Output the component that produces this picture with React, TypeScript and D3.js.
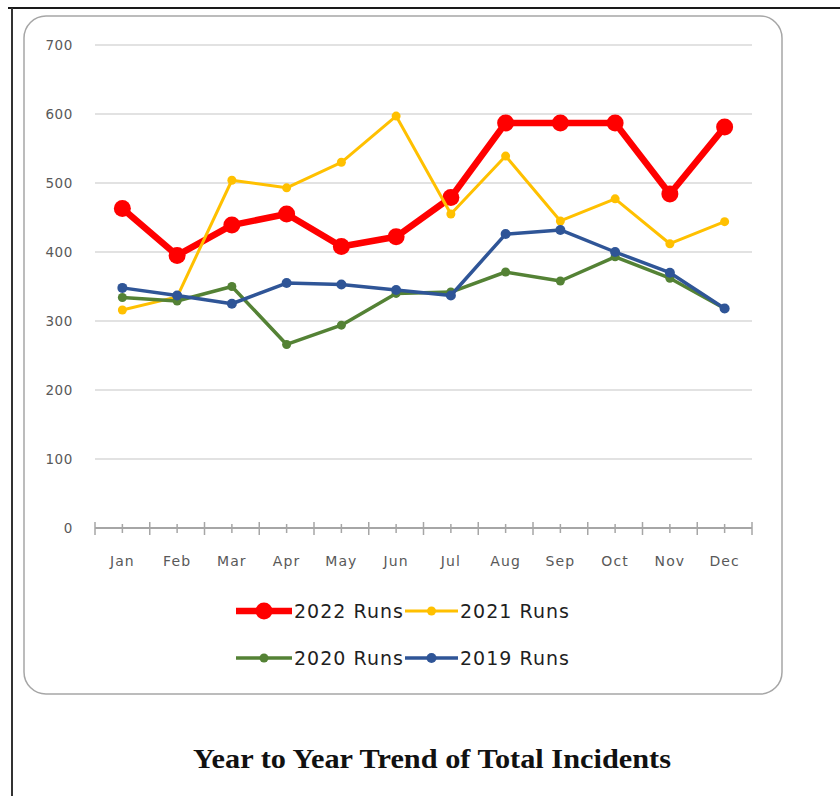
import React from "react";
import * as d3 from "d3";

// Monthly incident run counts by year
const months = ["Jan", "Feb", "Mar", "Apr", "May", "Jun", "Jul", "Aug", "Sep", "Oct", "Nov", "Dec"];
const runs2022 = [463, 395, 439, 455, 408, 422, 479, 587, 587, 587, 484, 581];
const runs2021 = [316, 335, 504, 493, 530, 597, 455, 539, 445, 477, 412, 444];
const runs2020 = [334, 329, 350, 266, 294, 340, 342, 371, 358, 393, 362, 318];
const runs2019 = [348, 337, 325, 355, 353, 345, 337, 426, 432, 400, 370, 318];
const yTicks = [0, 100, 200, 300, 400, 500, 600, 700];
const seriesNames = ["2022 Runs", "2021 Runs", "2020 Runs", "2019 Runs"];
const seriesColors = ["#FF0000", "#FFC000", "#548235", "#2F5597"];

const W = 840;
const H = 796;

export default function App() {
  const x = d3.scaleBand<string>().domain(months).range([95, 752]).paddingInner(0).paddingOuter(0);
  const bw = x.bandwidth();
  const cx = (m: string) => (x(m) as number) + bw / 2;
  const y = d3.scaleLinear().domain([0, 700]).range([528, 45]);

  const series = [
    { name: seriesNames[0], color: seriesColors[0], values: runs2022, width: 6.5, r: 8.5 },
    { name: seriesNames[1], color: seriesColors[1], values: runs2021, width: 3, r: 4.5 },
    { name: seriesNames[2], color: seriesColors[2], values: runs2020, width: 3.5, r: 4.5 },
    { name: seriesNames[3], color: seriesColors[3], values: runs2019, width: 3.5, r: 5 },
  ];

  const line = d3
    .line<number>()
    .x((_, i) => cx(months[i]))
    .y((v) => y(v))
    .curve(d3.curveLinear);

  const boundaries = months.map((m) => x(m) as number).concat([752]);

  const legendPos = [
    { lx: 236, ly: 611 },
    { lx: 405, ly: 611 },
    { lx: 236, ly: 658 },
    { lx: 405, ly: 658 },
  ];
  const legendLen = [56, 53, 56, 53];

  return (
    <svg
      width={W}
      height={H}
      viewBox={`0 0 ${W} ${H}`}
      style={{ position: "absolute", left: 0, top: 0, background: "#fff" }}
    >
      <rect x={0} y={0} width={W} height={H} fill="#fff" />
      {/* page frame */}
      <line x1={8} y1={8} x2={840} y2={8} stroke="#1a1a1a" strokeWidth={2} />
      <line x1={12} y1={8} x2={12} y2={796} stroke="#333" strokeWidth={2} />

      {/* chart area box */}
      <rect x={24} y={16} width={758} height={678} rx={22} ry={22} fill="#fff" stroke="#A6A6A6" strokeWidth={1.5} />

      {/* gridlines */}
      {yTicks
        .filter((t) => t > 0)
        .map((t) => (
          <line key={t} x1={95} x2={752} y1={y(t)} y2={y(t)} stroke="#E2E2E2" strokeWidth={2} />
        ))}

      {/* y tick labels */}
      {yTicks.map((t) => (
        <text
          key={t}
          x={73}
          y={y(t) + 5}
          textAnchor="end"
          fontFamily="DejaVu Sans"
          fontSize={13.5}
          letterSpacing={0.6}
          fill="#595959"
        >
          {t}
        </text>
      ))}

      {/* x axis */}
      <line x1={95} x2={752} y1={y(0)} y2={y(0)} stroke="#A6A6A6" strokeWidth={1.8} />
      {boundaries.map((b, i) => (
        <line key={"b" + i} x1={b} x2={b} y1={y(0) - 6} y2={y(0) + 7} stroke="#A6A6A6" strokeWidth={1.5} />
      ))}
      {months.map((m) => (
        <line key={"c" + m} x1={cx(m)} x2={cx(m)} y1={y(0) - 4} y2={y(0) + 5} stroke="#A6A6A6" strokeWidth={1.5} />
      ))}
      {months.map((m) => (
        <text
          key={"l" + m}
          x={cx(m)}
          y={566}
          textAnchor="middle"
          fontFamily="DejaVu Sans"
          fontSize={14}
          letterSpacing={1.1}
          fill="#595959"
        >
          {m}
        </text>
      ))}

      {/* series */}
      {series.map((s) => (
        <g key={s.name}>
          <path d={line(s.values) || ""} fill="none" stroke={s.color} strokeWidth={s.width} strokeLinejoin="round" strokeLinecap="round" />
          {s.values.map((v, i) => (
            <circle key={i} cx={cx(months[i])} cy={y(v)} r={s.r} fill={s.color} />
          ))}
        </g>
      ))}

      {/* legend */}
      {series.map((s, i) => {
        const p = legendPos[i];
        const len = legendLen[i];
        return (
          <g key={"lg" + s.name}>
            <line x1={p.lx} x2={p.lx + len} y1={p.ly} y2={p.ly} stroke={s.color} strokeWidth={s.width} />
            <circle cx={p.lx + len / 2} cy={p.ly} r={s.r} fill={s.color} />
            <text
              x={p.lx + len + 2}
              y={p.ly + 7}
              fontFamily="DejaVu Sans"
              fontSize={19}
              textLength={109}
              lengthAdjust="spacing"
              fill="#1f1f1f"
            >
              {s.name}
            </text>
          </g>
        );
      })}

      {/* title */}
      <text
        x={432}
        y={768}
        textAnchor="middle"
        fontFamily="Liberation Serif"
        fontWeight="bold"
        fontSize={27}
        textLength={478}
        lengthAdjust="spacingAndGlyphs"
        fill="#111"
      >
        Year to Year Trend of Total Incidents
      </text>
    </svg>
  );
}
